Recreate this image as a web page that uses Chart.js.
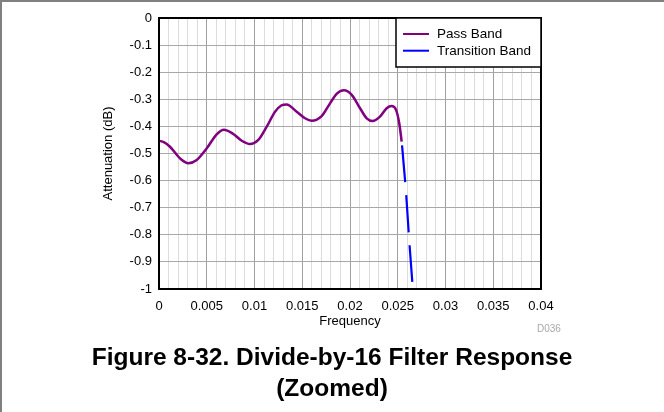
<!DOCTYPE html>
<html>
<head>
<meta charset="utf-8">
<script src="https://cdn.jsdelivr.net/npm/chart.js@4.4.0/dist/chart.umd.min.js"></script>
<style>
  html, body { margin: 0; padding: 0; background: #fff; }
  #wrap { position: relative; width: 664px; height: 412px; overflow: hidden; }
  #c { position: absolute; left: 0; top: 0; }
  #caption { position: absolute; left: 0; width: 664px; top: 341px; text-align: center;
    font-family: "Liberation Sans", Arial, sans-serif; font-weight: bold; font-size: 24.5px; line-height: 31px; color: #000; }
</style>
</head>
<body>
<div id="wrap">
  <canvas id="c" width="664" height="412"></canvas>
  <div id="caption">Figure 8-32. Divide-by-16 Filter Response<br>(Zoomed)</div>
</div>
<script>
// ---- data ----
const passBandX = [0, 0.0005, 0.00115, 0.0022, 0.00307, 0.00395, 0.005, 0.00604, 0.0068, 0.00778, 0.00866, 0.00953, 0.0104, 0.01128, 0.01215, 0.0128, 0.01337, 0.01442, 0.01529, 0.01599, 0.01703, 0.01791, 0.0186, 0.01937, 0.02018, 0.02105, 0.02175, 0.02237, 0.02314, 0.02384, 0.02436, 0.02482, 0.02516, 0.02541];
const passBandY = [-0.453, -0.458, -0.475, -0.518, -0.536, -0.524, -0.481, -0.429, -0.412, -0.428, -0.453, -0.465, -0.450, -0.401, -0.346, -0.323, -0.319, -0.346, -0.370, -0.379, -0.362, -0.315, -0.280, -0.267, -0.284, -0.333, -0.370, -0.380, -0.364, -0.333, -0.325, -0.339, -0.389, -0.456];
const transitionX = [0.02545, 0.0259, 0.0262, 0.02658];
const transitionY = [-0.47, -0.66, -0.82, -1.0];
const seriesNames = ['Pass Band', 'Transition Band'];
const xTickLabels = ['0', '0.005', '0.01', '0.015', '0.02', '0.025', '0.03', '0.035', '0.04'];
const yTickLabels = ['0', '-0.1', '-0.2', '-0.3', '-0.4', '-0.5', '-0.6', '-0.7', '-0.8', '-0.9', '-1'];
const xTitle = 'Frequency';
const yTitle = 'Attenuation (dB)';
const figId = 'D036';

const FONT = '"Liberation Sans", Arial, sans-serif';
const toPts = (xs, ys) => xs.map((x, i) => ({ x: x, y: ys[i] }));

const framePlugin = {
  id: 'frame',
  beforeDraw(chart) {
    const ctx = chart.ctx;
    ctx.save();
    ctx.fillStyle = '#808080';
    ctx.fillRect(0, 0, 664, 2);
    ctx.fillRect(0, 0, 2, 412);
    ctx.restore();
  },
  afterDraw(chart) {
    const { ctx, chartArea: a } = chart;
    ctx.save();
    ctx.strokeStyle = '#000';
    ctx.lineWidth = 2;
    ctx.strokeRect(a.left, a.top, a.right - a.left, a.bottom - a.top);
    // legend box
    const lx = 396, ly = a.top, lw = a.right - 396, lh = 49;
    ctx.fillStyle = '#fff';
    ctx.fillRect(lx, ly, lw, lh);
    ctx.lineWidth = 1.5;
    ctx.strokeRect(lx, ly, lw, lh);
    chart.data.datasets.forEach((ds, i) => {
      const y = ly + 16 + i * 16.7;
      ctx.strokeStyle = ds.borderColor;
      ctx.lineWidth = 2;
      ctx.setLineDash([]);
      ctx.beginPath();
      ctx.moveTo(403, y);
      ctx.lineTo(429, y);
      ctx.stroke();
      ctx.fillStyle = '#000';
      ctx.font = '13.5px ' + FONT;
      ctx.textBaseline = 'middle';
      ctx.textAlign = 'left';
      ctx.fillText(ds.label, 437, y + 0.5);
    });
    ctx.fillStyle = '#a8a8a8';
    ctx.font = '10px ' + FONT;
    ctx.textBaseline = 'alphabetic';
    ctx.fillText(figId, 537, 332);
    ctx.restore();
  }
};

new Chart(document.getElementById('c'), {
  type: 'scatter',
  data: {
    datasets: [
      { label: seriesNames[0], data: toPts(passBandX, passBandY), showLine: true, borderColor: '#800080',
        borderWidth: 2.5, pointRadius: 0, cubicInterpolationMode: 'monotone', fill: false },
      { label: seriesNames[1], data: toPts(transitionX, transitionY), showLine: true, borderColor: '#0000ff',
        borderWidth: 2.2, pointRadius: 0, borderDash: [37, 13], cubicInterpolationMode: 'monotone', fill: false }
    ]
  },
  options: {
    responsive: false,
    animation: false,
    layout: { padding: { left: 0, top: 18, right: 123, bottom: 0 } },
    plugins: { legend: { display: false }, tooltip: { enabled: false }, title: { display: false } },
    scales: {
      x: {
        type: 'linear', min: 0, max: 0.04,
        afterBuildTicks(s) {
          const t = [];
          for (let i = 0; i <= 40; i++) t.push({ value: i / 1000 });
          s.ticks = t;
        },
        afterFit(s) { s.height = 123; },
        ticks: {
          autoSkip: false, maxRotation: 0, minRotation: 0, padding: 10,
          color: '#000', font: { family: FONT, size: 13 },
          callback(v) { const k = Math.round(v * 1000); return k % 5 === 0 ? xTickLabels[k / 5] : ''; }
        },
        grid: {
          drawTicks: false,
          color(c) { const k = Math.round(c.tick.value * 1000); return k % 5 === 0 ? '#a0a0a0' : '#dcdcdc'; },
          lineWidth: 1
        },
        border: { display: false },
        title: { display: false }
      },
      y: {
        type: 'linear', min: -1, max: 0,
        afterBuildTicks(s) {
          const t = [];
          for (let i = 0; i <= 10; i++) t.push({ value: -i / 10 });
          s.ticks = t;
        },
        afterFit(s) { s.width = 159; },
        ticks: {
          padding: 7, color: '#000', font: { family: FONT, size: 13 },
          callback(v) { return yTickLabels[Math.round(-v * 10)]; }
        },
        grid: { drawTicks: false, color: '#a8a8a8', lineWidth: 1 },
        border: { display: false },
        title: { display: true, text: yTitle, color: '#000', font: { family: FONT, size: 13 }, padding: { top: 101, bottom: 0 } }
      }
    }
  },
  plugins: [framePlugin, {
    id: 'xtitle',
    afterDraw(chart) {
      const ctx = chart.ctx, a = chart.chartArea;
      ctx.save();
      ctx.fillStyle = '#000';
      ctx.font = '13px ' + FONT;
      ctx.textAlign = 'center';
      ctx.textBaseline = 'middle';
      ctx.fillText(xTitle, (a.left + a.right) / 2, 321);
      ctx.restore();
    }
  }]
});
</script>
</body>
</html>
